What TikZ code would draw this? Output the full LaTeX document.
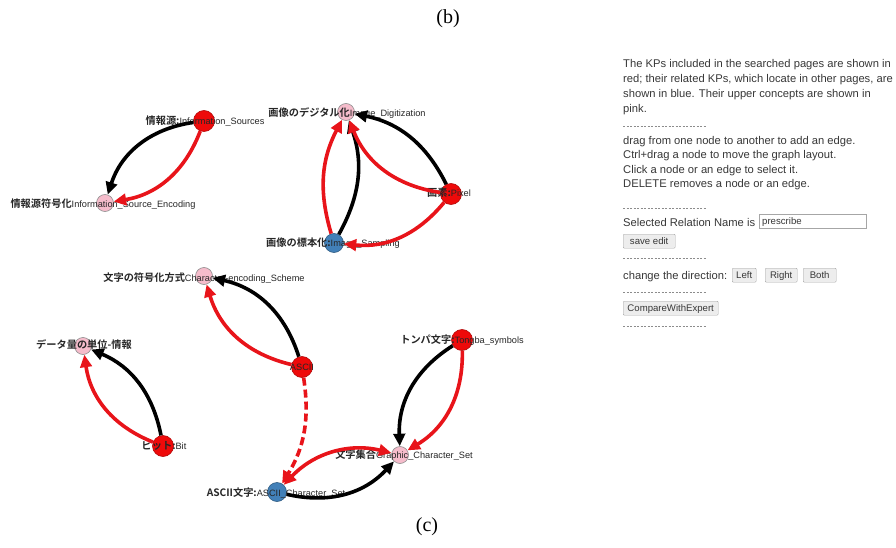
\documentclass[tikz,border=0pt]{standalone}
\usepackage{fontspec}
\setmainfont{Liberation Sans}
\newfontfamily\cjk{Noto Sans CJK JP}[BoldFont={Noto Sans CJK JP Bold}]
\newfontfamily\capfont{Liberation Serif}
\usetikzlibrary{arrows.meta}
\definecolor{kpred}{RGB}{238,10,10}
\definecolor{kppink}{RGB}{245,188,203}
\definecolor{kpblue}{RGB}{66,128,184}
\definecolor{edgered}{RGB}{232,20,26}
\definecolor{paneltext}{RGB}{55,55,55}
\newcommand{\jp}[1]{{\cjk\bfseries\fontsize{10.2}{10.2}\selectfont #1}}
\begin{document}
\begin{tikzpicture}[x=1pt,y=1pt,
  kpnode/.style={circle, inner sep=0pt, line width=0.6pt},
  redkp/.style={kpnode, fill=kpred, draw=kpred!75!black, minimum size=21pt},
  pinkkp/.style={kpnode, fill=kppink, draw=black!45, minimum size=17pt},
  bluekp/.style={kpnode, fill=kpblue, draw=kpblue!70!black, minimum size=19pt},
  lab/.style={inner sep=0pt, text=black!85, font=\fontsize{9.2}{9.2}\selectfont},
  tip/.tip={Triangle[length=12.5pt,width=11.5pt]},
  rel/.style={line width=3.6pt, -tip},
  blk/.style={rel, draw=black},
  rd/.style={rel, draw=edgered},
  ptxt/.style={inner sep=0pt, anchor=base west, text=paneltext, font=\fontsize{11.2}{11.2}\selectfont},
  btn/.style={draw=black!35, fill=black!7, rounded corners=1pt, inner xsep=0pt, inner ysep=0pt, text height=10pt, text depth=4pt, text=paneltext, font=\fontsize{9.6}{9.6}\selectfont, anchor=north west},
  sep/.style={draw=black!45, line width=0.4pt, dash pattern=on 2.2pt off 1.3pt},
  caption/.style={inner sep=0pt, font=\capfont\fontsize{20}{20}\selectfont}
]
\useasboundingbox (0,0) rectangle (896,-548);

% captions
\node[caption] (capb) at (448,-19) {(b)};
\node[caption] (capc) at (427,-527) {(c)};

% nodes
\node[redkp]  (is)   at (204,-121) {};
\node[pinkkp] (ise)  at (105,-203) {};
\node[pinkkp] (id)   at (346,-112) {};
\node[redkp]  (px)   at (451,-194) {};
\node[bluekp] (isa)  at (334,-243) {};
\node[pinkkp] (ces)  at (204,-276) {};
\node[redkp]  (asc)  at (302,-367) {};
\node[pinkkp] (du)   at (83,-346) {};
\node[redkp]  (bit)  at (163,-446) {};
\node[redkp]  (tong) at (462,-340) {};
\node[pinkkp] (gcs)  at (400,-455) {};
\node[bluekp] (acs)  at (277,-492) {};

% labels
\node[lab] (isl)   at (205,-121) {\jp{情報源:}Information\_Sources};
\node[lab] (isel)  at (103,-204) {\jp{情報源符号化}Information\_Source\_Encoding};
\node[lab] (idl)   at (347,-113) {\jp{画像のデジタル化}Image\_Digitization};
\node[lab] (pxl)   at (449,-193) {\jp{画素:}Pixel};
\node[lab] (isal)  at (333,-243) {\jp{画像の標本化:}Image\_Sampling};
\node[lab] (cesl)  at (204,-278) {\jp{文字の符号化方式}Character-encoding\_Scheme};
\node[lab] (ascl)  at (302,-367) {ASCII};
\node[lab] (dul)   at (84,-345) {\jp{データ量の単位-情報}};
\node[lab] (bitl)  at (164,-446) {\jp{ビット:}Bit};
\node[lab] (tongl) at (462,-340) {\jp{トンパ文字:}Tongba\_symbols};
\node[lab] (gcsl)  at (404,-455) {\jp{文字集合}Graphic\_Character\_Set};
\node[lab] (acsl)  at (276,-493) {\jp{ASCII文字:}ASCII\_Character\_Set};

% edges
\draw[blk] (is) to[bend right=32] (ise);
\draw[rd]  (is) to[bend left=30] (ise);
\draw[blk] (isa) to[bend right=24] (id);
\draw[rd]  (isa) to[bend left=22] (id);
\draw[blk] (px) to[bend right=26] (id);
\draw[rd]  (px) to[bend left=30] (id);
\draw[rd]  (px) to[bend left=28] (isa);
\draw[blk] (asc) to[bend right=30] (ces);
\draw[rd]  (asc) to[bend left=30] (ces);
\draw[blk] (bit) to[bend right=28] (du);
\draw[rd]  (bit) to[bend left=30] (du);
\draw[rd, dash pattern=on 8pt off 4pt] (asc) to[bend left=20] (acs);
\draw[blk] (tong) to[bend right=30] (gcs);
\draw[rd]  (tong) to[bend left=30] (gcs);
\draw[rd, tip-tip] (acs) to[bend left=30] (gcs);
\draw[blk] (acs) to[bend right=30] (gcs);

% right panel
\node[ptxt] (t1) at (623,-67.7) {The KPs included in the searched pages are shown in};
\node[ptxt] (t2) at (623,-82.5) {red; their related KPs, which locate in other pages, are};
\node[ptxt] (t3) at (623,-97.3) {shown in blue. Their upper concepts are shown in};
\node[ptxt] (t4) at (623,-112.3) {pink.};
\coordinate (s1a) at (623,-126.7); \coordinate (s1b) at (706,-126.7);
\draw[sep] (s1a) -- (s1b);
\node[ptxt] (t5) at (623,-144.3) {drag from one node to another to add an edge.};
\node[ptxt] (t6) at (623,-159) {Ctrl+drag a node to move the graph layout.};
\node[ptxt] (t7) at (623,-173.5) {Click a node or an edge to select it.};
\node[ptxt] (t8) at (623,-188) {DELETE removes a node or an edge.};
\coordinate (s2a) at (623,-207.7); \coordinate (s2b) at (706,-207.7);
\draw[sep] (s2a) -- (s2b);
\node[ptxt] (t9) at (623,-226.3) {Selected Relation Name is};
\node[draw=black!35, fill=white, inner sep=0pt, anchor=north west, minimum width=107pt, minimum height=14pt] (tb) at (759,-214.3) {};
\node[inner sep=0pt, anchor=base west, text=paneltext, font=\fontsize{9.6}{9.6}\selectfont] (tbt) at (762,-224.5) {prescribe};
\node[btn, minimum width=52pt] (save) at (623,-234) {save edit};
\coordinate (s3a) at (623,-258); \coordinate (s3b) at (706,-258);
\draw[sep] (s3a) -- (s3b);
\node[ptxt] (t10) at (623,-279) {change the direction:};
\node[btn, minimum width=24pt] (bl) at (732,-268) {Left};
\node[btn, minimum width=32pt] (br) at (765,-268) {Right};
\node[btn, minimum width=33pt] (bb) at (803,-268) {Both};
\coordinate (s4a) at (623,-292); \coordinate (s4b) at (706,-292);
\draw[sep] (s4a) -- (s4b);
\node[btn, minimum width=95pt] (cwe) at (623,-301) {CompareWithExpert};
\coordinate (s5a) at (623,-326); \coordinate (s5b) at (706,-326);
\draw[sep] (s5a) -- (s5b);
\end{tikzpicture}
\end{document}
